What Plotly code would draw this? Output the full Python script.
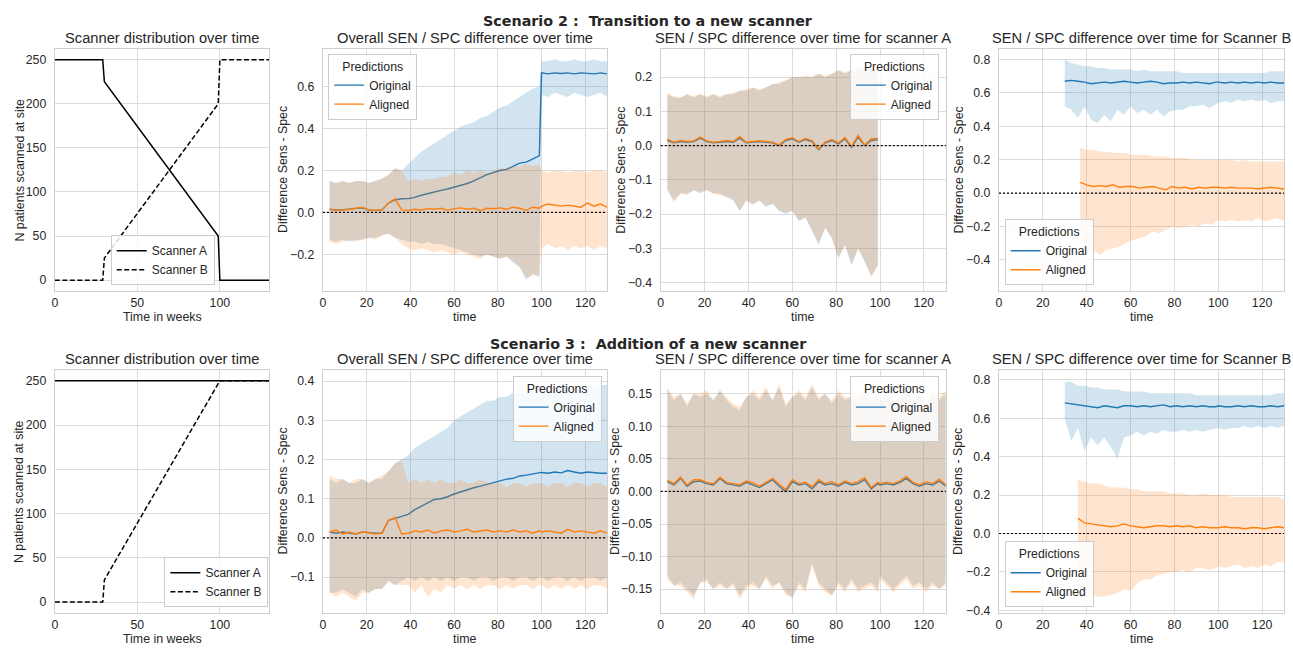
import plotly.graph_objects as go

W, H = 1293, 648

# ---------------- data ----------------
SC2_T = [0, 29, 30, 99, 100, 130]
SC2_A = [250, 250, 225, 50, 0, 0]
SC2_B = [0, 0, 25, 200, 250, 250]
SC3_T = [0, 29, 30, 100, 130]
SC3_A = [250, 250, 250, 250, 250]
SC3_B = [0, 0, 25, 250, 250]

T_MAIN = list(range(3, 100, 3)) + list(range(100, 131, 3))
T_A2 = list(range(3, 100, 3))
TB_ORIG = list(range(30, 100, 3)) + list(range(100, 131, 3))
TB_ALIG_S2 = list(range(37, 100, 3)) + list(range(100, 131, 3))
TB_ALIG_S3 = list(range(36, 100, 3)) + list(range(100, 131, 3))

# Scenario 2 - overall
S2_ALL_ORIG_MEAN = [0.015, 0.012, 0.013, 0.015, 0.018, 0.022, 0.012, 0.010, 0.012, 0.045, 0.060,
                    0.065, 0.066, 0.072, 0.082, 0.090, 0.100, 0.105, 0.112, 0.120, 0.130, 0.138,
                    0.150, 0.165, 0.180, 0.190, 0.200, 0.205, 0.220, 0.235, 0.240, 0.255, 0.270,
                    0.665, 0.660, 0.665, 0.662, 0.665, 0.660, 0.665, 0.663, 0.660, 0.665, 0.660]
S2_ALL_ORIG_LO = [-0.13, -0.14, -0.13, -0.14, -0.13, -0.13, -0.12, -0.12, -0.11, -0.10, -0.12,
                  -0.13, -0.14, -0.14, -0.15, -0.14, -0.15, -0.15, -0.16, -0.17, -0.18, -0.19,
                  -0.20, -0.21, -0.20, -0.21, -0.22, -0.21, -0.24, -0.26, -0.32, -0.29, -0.31,
                  0.56, 0.55, 0.57, 0.56, 0.55, 0.57, 0.56, 0.55, 0.56, 0.57, 0.55]
S2_ALL_ORIG_HI = [0.15, 0.14, 0.15, 0.14, 0.15, 0.15, 0.14, 0.15, 0.16, 0.18, 0.21,
                  0.20, 0.23, 0.26, 0.29, 0.31, 0.33, 0.35, 0.37, 0.39, 0.41, 0.42,
                  0.43, 0.45, 0.46, 0.48, 0.50, 0.51, 0.53, 0.55, 0.57, 0.59, 0.60,
                  0.72, 0.72, 0.73, 0.72, 0.72, 0.73, 0.72, 0.72, 0.73, 0.72, 0.72]
S2_ALL_ALIG_MEAN = [0.015, 0.010, 0.012, 0.014, 0.020, 0.025, 0.012, 0.010, 0.013, 0.045, 0.065,
                    0.012, 0.010, 0.015, 0.012, 0.018, 0.015, 0.020, 0.010, 0.018, 0.022, 0.015,
                    0.020, 0.008, 0.020, 0.018, 0.022, 0.015, 0.025, 0.020, 0.010, 0.025, 0.020,
                    0.030, 0.040, 0.035, 0.030, 0.035, 0.030, 0.025, 0.045, 0.030, 0.040, 0.025]
S2_ALL_ALIG_LO = [-0.14, -0.15, -0.14, -0.13, -0.14, -0.13, -0.12, -0.13, -0.11, -0.10, -0.12,
                  -0.15, -0.17, -0.18, -0.17, -0.18, -0.19, -0.18, -0.19, -0.20, -0.19, -0.20,
                  -0.21, -0.22, -0.20, -0.21, -0.22, -0.21, -0.23, -0.26, -0.31, -0.30, -0.30,
                  -0.17, -0.15, -0.17, -0.16, -0.18, -0.16, -0.17, -0.16, -0.18, -0.16, -0.17]
S2_ALL_ALIG_HI = [0.15, 0.14, 0.15, 0.14, 0.15, 0.15, 0.14, 0.15, 0.16, 0.18, 0.21,
                  0.20, 0.15, 0.16, 0.15, 0.16, 0.16, 0.17, 0.17, 0.19, 0.18, 0.20,
                  0.19, 0.20, 0.19, 0.20, 0.21, 0.21, 0.22, 0.22, 0.23, 0.22, 0.23,
                  0.20, 0.19, 0.20, 0.20, 0.19, 0.20, 0.20, 0.19, 0.20, 0.20, 0.19]

# Scenario 2 - scanner A
S2_A_ORIG_MEAN = [0.015, 0.008, 0.012, 0.010, 0.012, 0.022, 0.012, 0.008, 0.010, 0.012, 0.010,
                  0.022, 0.008, 0.010, 0.012, 0.010, 0.008, 0.000, 0.015, 0.020, 0.010, 0.018,
                  0.012, -0.012, 0.008, 0.015, 0.005, 0.020, -0.005, 0.025, 0.000, 0.015, 0.018]
S2_A_ALIG_MEAN = [0.018, 0.010, 0.015, 0.012, 0.014, 0.025, 0.014, 0.010, 0.012, 0.015, 0.012,
                  0.026, 0.010, 0.012, 0.014, 0.012, 0.010, 0.002, 0.018, 0.023, 0.012, 0.021,
                  0.015, -0.010, 0.010, 0.018, 0.008, 0.024, -0.002, 0.030, 0.002, 0.020, 0.020]
S2_A_ORIG_HI = [0.15, 0.14, 0.14, 0.15, 0.14, 0.15, 0.14, 0.15, 0.14, 0.15, 0.15,
                0.16, 0.16, 0.17, 0.16, 0.17, 0.18, 0.18, 0.19, 0.20, 0.20, 0.20,
                0.20, 0.21, 0.20, 0.21, 0.22, 0.21, 0.22, 0.22, 0.23, 0.22, 0.22]
S2_A_ALIG_HI = [0.155, 0.145, 0.14, 0.15, 0.145, 0.15, 0.145, 0.15, 0.145, 0.15, 0.155,
                0.16, 0.165, 0.17, 0.165, 0.17, 0.18, 0.185, 0.19, 0.20, 0.20, 0.205,
                0.20, 0.21, 0.205, 0.21, 0.22, 0.215, 0.22, 0.225, 0.23, 0.225, 0.22]
S2_A_ORIG_LO = [-0.13, -0.16, -0.14, -0.14, -0.13, -0.14, -0.13, -0.14, -0.14, -0.15, -0.16,
                -0.19, -0.16, -0.17, -0.16, -0.18, -0.17, -0.19, -0.20, -0.19, -0.22, -0.21,
                -0.25, -0.29, -0.24, -0.27, -0.33, -0.29, -0.35, -0.30, -0.34, -0.38, -0.35]
S2_A_ALIG_LO = [-0.125, -0.165, -0.14, -0.145, -0.13, -0.135, -0.13, -0.14, -0.145, -0.15, -0.155,
                -0.19, -0.16, -0.175, -0.16, -0.175, -0.17, -0.19, -0.195, -0.19, -0.22, -0.21,
                -0.245, -0.285, -0.24, -0.27, -0.325, -0.29, -0.345, -0.30, -0.335, -0.385, -0.35]

# Scenario 2 - scanner B
S2_B_ORIG_MEAN = [0.670, 0.675, 0.670, 0.665, 0.655, 0.660, 0.665, 0.660, 0.665, 0.670, 0.665, 0.660,
                  0.665, 0.670, 0.665, 0.655, 0.660, 0.660, 0.665, 0.660, 0.665, 0.660, 0.655, 0.665,
                  0.665, 0.660, 0.665, 0.660, 0.665, 0.660, 0.665, 0.660, 0.665, 0.660, 0.660]
S2_B_ORIG_HI = [0.80, 0.78, 0.77, 0.76, 0.76, 0.75, 0.75, 0.74, 0.74, 0.74, 0.74, 0.73,
                0.74, 0.73, 0.73, 0.73, 0.73, 0.73, 0.72, 0.72, 0.72, 0.72, 0.72, 0.72,
                0.72, 0.72, 0.72, 0.72, 0.72, 0.72, 0.72, 0.72, 0.73, 0.73, 0.73]
S2_B_ORIG_LO = [0.52, 0.50, 0.45, 0.52, 0.44, 0.42, 0.47, 0.43, 0.50, 0.47, 0.52, 0.48,
                0.50, 0.47, 0.50, 0.46, 0.49, 0.50, 0.50, 0.52, 0.52, 0.53, 0.51, 0.53,
                0.54, 0.55, 0.54, 0.56, 0.55, 0.56, 0.55, 0.56, 0.54, 0.55, 0.55]
S2_B_ALIG_MEAN = [0.065, 0.050, 0.040, 0.045, 0.040, 0.050, 0.035, 0.040, 0.040, 0.030, 0.035,
                  0.040, 0.030, 0.020, 0.040, 0.030, 0.035, 0.025, 0.035, 0.030, 0.035,
                  0.035, 0.030, 0.035, 0.030, 0.030, 0.030, 0.025, 0.030, 0.035, 0.030, 0.025]
S2_B_ALIG_HI = [0.27, 0.26, 0.26, 0.25, 0.25, 0.24, 0.24, 0.24, 0.23, 0.23, 0.23,
                0.22, 0.22, 0.22, 0.21, 0.21, 0.21, 0.20, 0.20, 0.20, 0.20,
                0.20, 0.20, 0.20, 0.19, 0.20, 0.19, 0.19, 0.19, 0.19, 0.19, 0.19]
S2_B_ALIG_LO = [-0.33, -0.35, -0.34, -0.37, -0.34, -0.33, -0.32, -0.30, -0.28, -0.27, -0.26,
                -0.23, -0.24, -0.22, -0.20, -0.21, -0.20, -0.19, -0.20, -0.18, -0.19,
                -0.16, -0.17, -0.16, -0.17, -0.16, -0.17, -0.15, -0.17, -0.16, -0.15, -0.17]

# Scenario 3 - overall
S3_ALL_ORIG_MEAN = [0.015, 0.012, 0.015, 0.012, 0.010, 0.015, 0.013, 0.012, 0.012, 0.045, 0.050,
                    0.055, 0.060, 0.072, 0.080, 0.088, 0.098, 0.100, 0.105, 0.112, 0.118, 0.122,
                    0.128, 0.132, 0.137, 0.140, 0.145, 0.150, 0.152, 0.158, 0.160, 0.163, 0.167,
                    0.167, 0.165, 0.168, 0.166, 0.172, 0.168, 0.165, 0.168, 0.166, 0.165, 0.165]
S3_ALL_ORIG_HI = [0.15, 0.14, 0.15, 0.14, 0.14, 0.15, 0.14, 0.15, 0.15, 0.17, 0.19,
                  0.20, 0.21, 0.23, 0.24, 0.25, 0.26, 0.27, 0.28, 0.30, 0.31, 0.32,
                  0.33, 0.34, 0.35, 0.35, 0.36, 0.36, 0.37, 0.37, 0.37, 0.38, 0.38,
                  0.38, 0.38, 0.385, 0.39, 0.39, 0.385, 0.39, 0.39, 0.39, 0.39, 0.39]
S3_ALL_ORIG_LO = [-0.14, -0.14, -0.13, -0.14, -0.15, -0.13, -0.14, -0.13, -0.13, -0.11, -0.12,
                  -0.11, -0.10, -0.11, -0.10, -0.11, -0.10, -0.11, -0.10, -0.11, -0.10, -0.10,
                  -0.11, -0.10, -0.10, -0.11, -0.10, -0.10, -0.11, -0.10, -0.10, -0.11, -0.10,
                  -0.10, -0.11, -0.10, -0.10, -0.11, -0.10, -0.11, -0.10, -0.10, -0.11, -0.10]
S3_ALL_ALIG_MEAN = [0.015, 0.020, 0.010, 0.015, 0.010, 0.015, 0.013, 0.010, 0.012, 0.045, 0.052,
                    0.010, 0.012, 0.018, 0.015, 0.020, 0.012, 0.018, 0.020, 0.015, 0.018, 0.022,
                    0.015, 0.018, 0.020, 0.015, 0.018, 0.015, 0.020, 0.015, 0.018, 0.012, 0.018,
                    0.015, 0.018, 0.015, 0.012, 0.022, 0.015, 0.018, 0.015, 0.012, 0.018, 0.012]
S3_ALL_ALIG_HI = [0.16, 0.15, 0.15, 0.14, 0.15, 0.15, 0.14, 0.15, 0.16, 0.17, 0.19,
                  0.20, 0.14, 0.15, 0.14, 0.15, 0.14, 0.15, 0.14, 0.14, 0.15, 0.14,
                  0.14, 0.15, 0.14, 0.14, 0.14, 0.13, 0.14, 0.14, 0.13, 0.14, 0.14,
                  0.14, 0.13, 0.14, 0.14, 0.13, 0.14, 0.14, 0.13, 0.14, 0.14, 0.13]
S3_ALL_ALIG_LO = [-0.14, -0.15, -0.14, -0.15, -0.16, -0.14, -0.14, -0.13, -0.13, -0.11, -0.12,
                  -0.12, -0.12, -0.14, -0.12, -0.15, -0.13, -0.14, -0.12, -0.13, -0.12, -0.13,
                  -0.12, -0.13, -0.12, -0.12, -0.13, -0.12, -0.13, -0.12, -0.12, -0.13, -0.12,
                  -0.12, -0.13, -0.12, -0.13, -0.12, -0.13, -0.12, -0.13, -0.12, -0.12, -0.13]

# Scenario 3 - scanner A
S3_A_ORIG_MEAN = [0.015, 0.010, 0.020, 0.008, 0.015, 0.016, 0.012, 0.010, 0.020, 0.012, 0.010,
                  0.008, 0.014, 0.010, 0.006, 0.012, 0.018, 0.008, 0.000, 0.015, 0.010, 0.012,
                  0.004, 0.015, 0.010, 0.012, 0.008, 0.014, 0.010, 0.012, 0.018, 0.004, 0.012,
                  0.010, 0.012, 0.010, 0.014, 0.020, 0.012, 0.008, 0.012, 0.010, 0.016, 0.008]
S3_A_ALIG_MEAN = [0.017, 0.012, 0.022, 0.010, 0.018, 0.018, 0.014, 0.012, 0.022, 0.014, 0.012,
                  0.010, 0.016, 0.013, 0.008, 0.014, 0.020, 0.011, 0.003, 0.018, 0.012, 0.014,
                  0.007, 0.018, 0.012, 0.015, 0.010, 0.016, 0.012, 0.015, 0.021, 0.006, 0.014,
                  0.012, 0.014, 0.012, 0.016, 0.023, 0.014, 0.010, 0.015, 0.012, 0.019, 0.010]
S3_A_ORIG_HI = [0.155, 0.140, 0.150, 0.130, 0.150, 0.145, 0.150, 0.140, 0.155, 0.140, 0.130,
                0.125, 0.145, 0.150, 0.140, 0.155, 0.140, 0.160, 0.130, 0.145, 0.150, 0.140,
                0.160, 0.140, 0.150, 0.135, 0.150, 0.140, 0.145, 0.140, 0.155, 0.140, 0.150,
                0.140, 0.150, 0.135, 0.145, 0.155, 0.140, 0.150, 0.135, 0.150, 0.140, 0.150]
S3_A_ALIG_HI = [0.160, 0.145, 0.150, 0.135, 0.150, 0.150, 0.155, 0.140, 0.155, 0.145, 0.135,
                0.130, 0.145, 0.155, 0.145, 0.160, 0.140, 0.165, 0.135, 0.145, 0.155, 0.145,
                0.165, 0.145, 0.150, 0.140, 0.155, 0.145, 0.145, 0.145, 0.160, 0.140, 0.150,
                0.145, 0.155, 0.140, 0.145, 0.160, 0.145, 0.150, 0.140, 0.155, 0.145, 0.155]
S3_A_ORIG_LO = [-0.130, -0.145, -0.140, -0.150, -0.160, -0.140, -0.135, -0.150, -0.140, -0.150, -0.140,
                -0.160, -0.145, -0.140, -0.150, -0.130, -0.145, -0.140, -0.155, -0.165, -0.140, -0.150,
                -0.110, -0.140, -0.150, -0.160, -0.140, -0.150, -0.135, -0.150, -0.145, -0.140, -0.150,
                -0.130, -0.140, -0.150, -0.140, -0.130, -0.145, -0.140, -0.150, -0.140, -0.150, -0.140]
S3_A_ALIG_LO = [-0.135, -0.145, -0.145, -0.155, -0.165, -0.140, -0.140, -0.150, -0.145, -0.150, -0.145,
                -0.165, -0.150, -0.145, -0.150, -0.135, -0.150, -0.140, -0.160, -0.160, -0.145, -0.155,
                -0.115, -0.145, -0.155, -0.160, -0.145, -0.155, -0.140, -0.155, -0.150, -0.145, -0.155,
                -0.135, -0.145, -0.155, -0.145, -0.135, -0.150, -0.145, -0.155, -0.145, -0.150, -0.145]

# Scenario 3 - scanner B
S3_B_ORIG_MEAN = [0.680, 0.675, 0.670, 0.665, 0.660, 0.655, 0.665, 0.660, 0.655, 0.665, 0.665, 0.660,
                  0.665, 0.660, 0.665, 0.670, 0.660, 0.665, 0.660, 0.665, 0.660, 0.665, 0.660, 0.660,
                  0.665, 0.660, 0.660, 0.665, 0.660, 0.665, 0.660, 0.660, 0.665, 0.660, 0.665]
S3_B_ORIG_HI = [0.79, 0.79, 0.77, 0.77, 0.76, 0.76, 0.75, 0.75, 0.75, 0.74, 0.74, 0.74,
                0.74, 0.73, 0.73, 0.73, 0.73, 0.73, 0.73, 0.73, 0.72, 0.72, 0.72, 0.72,
                0.72, 0.72, 0.72, 0.72, 0.72, 0.72, 0.72, 0.72, 0.72, 0.73, 0.73]
S3_B_ORIG_LO = [0.60, 0.48, 0.55, 0.43, 0.50, 0.46, 0.50, 0.45, 0.39, 0.50, 0.51, 0.53,
                0.51, 0.53, 0.52, 0.54, 0.53, 0.53, 0.54, 0.53, 0.54, 0.53, 0.54, 0.55,
                0.55, 0.54, 0.55, 0.55, 0.56, 0.55, 0.56, 0.55, 0.56, 0.55, 0.56]
S3_B_ALIG_MEAN = [0.080, 0.055, 0.050, 0.045, 0.040, 0.035, 0.040, 0.050, 0.040, 0.035, 0.030,
                  0.035, 0.040, 0.040, 0.035, 0.040, 0.035, 0.040, 0.030, 0.035, 0.030, 0.030,
                  0.030, 0.035, 0.030, 0.030, 0.025, 0.030, 0.030, 0.025, 0.030, 0.035, 0.030]
S3_B_ALIG_HI = [0.28, 0.27, 0.26, 0.26, 0.25, 0.24, 0.24, 0.24, 0.23, 0.23, 0.22,
                0.22, 0.22, 0.22, 0.21, 0.21, 0.21, 0.20, 0.20, 0.21, 0.20, 0.20,
                0.20, 0.20, 0.19, 0.19, 0.19, 0.19, 0.19, 0.19, 0.19, 0.19, 0.18]
S3_B_ALIG_LO = [-0.33, -0.33, -0.32, -0.33, -0.33, -0.32, -0.31, -0.29, -0.30, -0.26, -0.24,
                -0.24, -0.22, -0.21, -0.20, -0.20, -0.19, -0.20, -0.18, -0.18, -0.19, -0.18,
                -0.17, -0.18, -0.17, -0.16, -0.18, -0.17, -0.18, -0.16, -0.17, -0.15, -0.15]

TITLES = ["Scanner distribution over time", "Overall SEN / SPC difference over time",
          "SEN / SPC difference over time for scanner A", "SEN / SPC difference over time for Scanner B"]
SUPTITLES = ["<b>Scenario 2 :  Transition to a new scanner</b>", "<b>Scenario 3 :  Addition of a new scanner</b>"]

# ---------------- style / layout ----------------
FONT = "Liberation Sans, Arial, sans-serif"
TXT = "#262626"
BLUE, ORANGE = "#1f77b4", "#ff7f0e"
BLUE_F, ORANGE_F = "rgba(31,119,180,0.2)", "rgba(255,127,14,0.2)"
GRID, FRAME = "#dcdcdc", "#cfcfcf"

XD = [(52, 267), (320.7, 605.5), (659.3, 945), (998.3, 1284)]
YD = [(49, 293), (372, 617)]
YR = {1: [-12.5, 262.5], 2: [-0.375, 0.78], 3: [-0.425, 0.283], 4: [-0.587, 0.865],
      5: [-12.5, 262.5], 6: [-0.192, 0.429], 7: [-0.187, 0.187], 8: [-0.415, 0.853]}
YDT = {1: 50, 2: 0.2, 3: 0.1, 4: 0.2, 5: 50, 6: 0.1, 7: 0.05, 8: 0.2}
YFMT = {1: "d", 2: ".1f", 3: ".1f", 4: ".1f", 5: "d", 6: ".1f", 7: ".2f", 8: ".1f"}
YLAB_X = {1: 16.7, 2: 280.7, 3: 619.3, 4: 957.7, 5: 16.7, 6: 280.7, 7: 614, 8: 957.7}

fig = go.Figure()


def ids(i):
    return ("x" if i == 1 else f"x{i}"), ("y" if i == 1 else f"y{i}")


def lg(i):
    return "legend" if i == 1 else f"legend{i}"


def band(i, t, lo, hi, col):
    xa, ya = ids(i)
    fig.add_trace(go.Scatter(x=t, y=lo, mode="lines", line=dict(width=0, color=col),
                             xaxis=xa, yaxis=ya, showlegend=False, hoverinfo="skip"))
    fig.add_trace(go.Scatter(x=t, y=hi, mode="lines", line=dict(width=0, color=col),
                             fill="tonexty", fillcolor=col, xaxis=xa, yaxis=ya,
                             showlegend=False, hoverinfo="skip"))


def line(i, t, y, col, name, dash="solid", width=1.4):
    xa, ya = ids(i)
    fig.add_trace(go.Scatter(x=t, y=y, mode="lines", name=name,
                             line=dict(color=col, width=width, dash=dash),
                             xaxis=xa, yaxis=ya, legend=lg(i), showlegend=True))


def diff_panel(i, to, om, olo, ohi, ta, am, alo, ahi):
    band(i, to, olo, ohi, BLUE_F)
    line(i, to, om, BLUE, "Original")
    band(i, ta, alo, ahi, ORANGE_F)
    line(i, ta, am, ORANGE, "Aligned")


# scanner distribution panels
line(1, SC2_T, SC2_A, "black", "Scanner A", width=1.5)
line(1, SC2_T, SC2_B, "black", "Scanner B", dash="5px,2.5px", width=1.5)
line(5, SC3_T, SC3_A, "black", "Scanner A", width=1.5)
line(5, SC3_T, SC3_B, "black", "Scanner B", dash="5px,2.5px", width=1.5)

diff_panel(2, T_MAIN, S2_ALL_ORIG_MEAN, S2_ALL_ORIG_LO, S2_ALL_ORIG_HI,
           T_MAIN, S2_ALL_ALIG_MEAN, S2_ALL_ALIG_LO, S2_ALL_ALIG_HI)
diff_panel(3, T_A2, S2_A_ORIG_MEAN, S2_A_ORIG_LO, S2_A_ORIG_HI,
           T_A2, S2_A_ALIG_MEAN, S2_A_ALIG_LO, S2_A_ALIG_HI)
diff_panel(4, TB_ORIG, S2_B_ORIG_MEAN, S2_B_ORIG_LO, S2_B_ORIG_HI,
           TB_ALIG_S2, S2_B_ALIG_MEAN, S2_B_ALIG_LO, S2_B_ALIG_HI)
diff_panel(6, T_MAIN, S3_ALL_ORIG_MEAN, S3_ALL_ORIG_LO, S3_ALL_ORIG_HI,
           T_MAIN, S3_ALL_ALIG_MEAN, S3_ALL_ALIG_LO, S3_ALL_ALIG_HI)
diff_panel(7, T_MAIN, S3_A_ORIG_MEAN, S3_A_ORIG_LO, S3_A_ORIG_HI,
           T_MAIN, S3_A_ALIG_MEAN, S3_A_ALIG_LO, S3_A_ALIG_HI)
diff_panel(8, TB_ORIG, S3_B_ORIG_MEAN, S3_B_ORIG_LO, S3_B_ORIG_HI,
           TB_ALIG_S3, S3_B_ALIG_MEAN, S3_B_ALIG_LO, S3_B_ALIG_HI)

layout = dict(width=W, height=H, margin=dict(l=0, r=0, t=0, b=0),
              paper_bgcolor="white", plot_bgcolor="white",
              font=dict(family=FONT, color=TXT, size=12), hovermode=False)
annotations = []
shapes = []

TICKF = dict(family=FONT, size=12.3, color=TXT)
LABF = dict(family=FONT, size=12.4, color=TXT)

for i in range(1, 9):
    r, c = (0, i - 1) if i <= 4 else (1, i - 5)
    xa, ya = ids(i)
    xn = "xaxis" if i == 1 else f"xaxis{i}"
    yn = "yaxis" if i == 1 else f"yaxis{i}"
    common = dict(showgrid=True, gridcolor=GRID, gridwidth=1, showline=True, mirror=True,
                  linecolor=FRAME, linewidth=1.25, zeroline=False, ticks="", tickfont=TICKF)
    scanner = c == 0
    layout[xn] = dict(domain=[XD[c][0] / W, XD[c][1] / W], anchor=ya, range=[0, 130],
                      tick0=0, dtick=50 if scanner else 20, ticklabelstandoff=0, **common)
    layout[yn] = dict(domain=[1 - YD[r][1] / H, 1 - YD[r][0] / H], anchor=xa, range=YR[i],
                      tick0=0, dtick=YDT[i], tickformat=YFMT[i], ticklabelstandoff=5, **common)
    xc = (XD[c][0] + XD[c][1]) / 2
    ymid = (YD[r][0] + YD[r][1]) / 2
    # subplot title
    annotations.append(dict(text=TITLES[c], x=xc / W, y=1 - (YD[r][0] - 11) / H, xref="paper",
                            yref="paper", xanchor="center", yanchor="middle", showarrow=False,
                            font=dict(family=FONT, size=14.7, color=TXT)))
    # axis titles
    annotations.append(dict(text="Time in weeks" if scanner else "time", x=xc / W,
                            y=1 - (YD[r][1] + 25.5) / H, xref="paper", yref="paper",
                            xanchor="center", yanchor="middle", showarrow=False, font=LABF))
    annotations.append(dict(text="N patients scanned at site" if scanner else "Difference Sens - Spec",
                            x=YLAB_X[i] / W, y=1 - ymid / H, xref="paper", yref="paper",
                            xanchor="center", yanchor="middle", textangle=-90, showarrow=False,
                            font=LABF))
    if not scanner:
        shapes.append(dict(type="line", xref=f"{xa} domain", yref=ya, x0=0, x1=1, y0=0, y1=0,
                           line=dict(color="black", width=1.2, dash="2px,2px"), layer="above"))

for k, yc in enumerate([21.5, 346]):
    annotations.append(dict(text=SUPTITLES[k], x=0.5, y=1 - yc / H, xref="paper", yref="paper",
                            xanchor="center", yanchor="middle", showarrow=False,
                            font=dict(family="DejaVu Sans", size=14.3, color=TXT)))

LEG_BASE = dict(bgcolor="rgba(255,255,255,0.85)", bordercolor="#cccccc", borderwidth=1,
                font=dict(family=FONT, size=12, color=TXT), itemwidth=30, tracegroupgap=0,
                traceorder="normal")
PRED = dict(text="Predictions", side="top center", font=dict(family=FONT, size=12.3, color=TXT))
LEG_POS = {
    1: dict(x=108 / W, y=1 - 287 / H, xanchor="left", yanchor="bottom"),
    5: dict(x=266 / W, y=1 - 611 / H, xanchor="right", yanchor="bottom"),
    2: dict(x=326 / W, y=1 - 54 / H, xanchor="left", yanchor="top", title=PRED),
    3: dict(x=938 / W, y=1 - 54 / H, xanchor="right", yanchor="top", title=PRED),
    4: dict(x=1004 / W, y=1 - 287 / H, xanchor="left", yanchor="bottom", title=PRED),
    6: dict(x=600 / W, y=1 - 378 / H, xanchor="right", yanchor="top", title=PRED),
    7: dict(x=938 / W, y=1 - 378 / H, xanchor="right", yanchor="top", title=PRED),
    8: dict(x=1004 / W, y=1 - 611 / H, xanchor="left", yanchor="bottom", title=PRED),
}
for i, pos in LEG_POS.items():
    layout[lg(i)] = dict(**LEG_BASE, **pos)

layout["annotations"] = annotations
layout["shapes"] = shapes
fig.update_layout(**layout)
fig.write_html("out.html")
